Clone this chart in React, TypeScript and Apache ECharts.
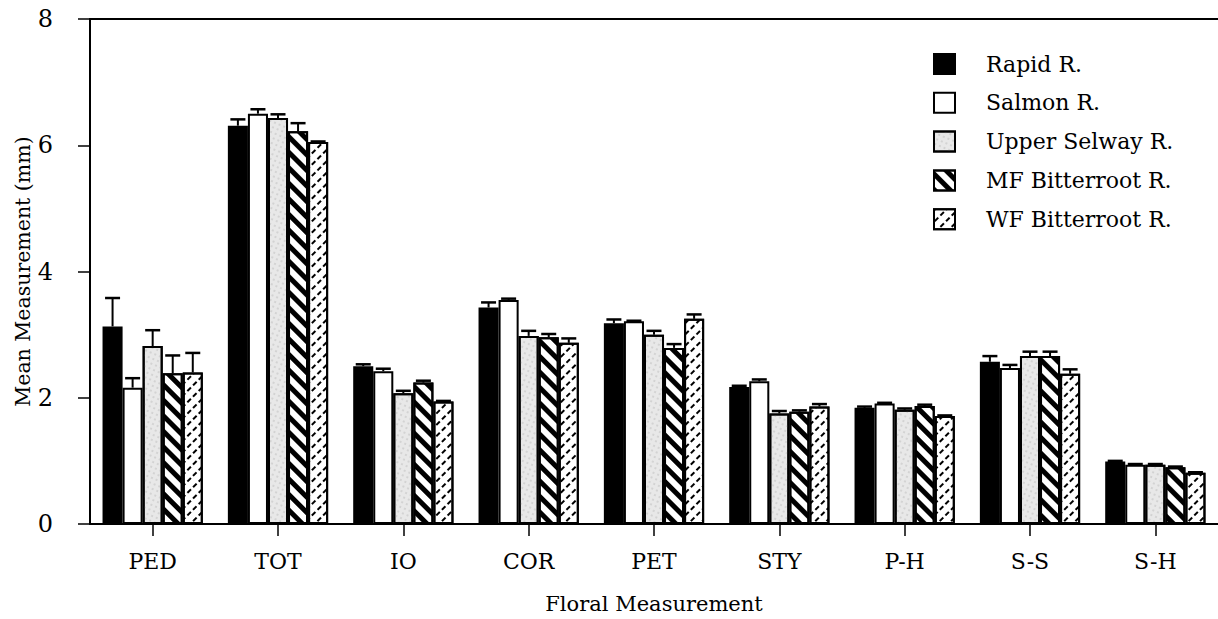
import React, { useEffect, useRef } from "react";
import * as echarts from "echarts";

const categories = ["PED", "TOT", "IO", "COR", "PET", "STY", "P-H", "S-S", "S-H"];
const seriesNames = ["Rapid R.", "Salmon R.", "Upper Selway R.", "MF Bitterroot R.", "WF Bitterroot R."];

const rapid = [3.13, 6.31, 2.5, 3.43, 3.18, 2.17, 1.84, 2.57, 0.99];
const rapidErr = [3.58, 6.41, 2.53, 3.51, 3.24, 2.19, 1.86, 2.66, 1.0];
const salmon = [2.16, 6.5, 2.42, 3.55, 3.21, 2.26, 1.91, 2.47, 0.94];
const salmonErr = [2.31, 6.57, 2.46, 3.57, 3.22, 2.29, 1.92, 2.52, 0.95];
const selway = [2.82, 6.43, 2.07, 2.98, 3.0, 1.75, 1.81, 2.66, 0.94];
const selwayErr = [3.07, 6.49, 2.11, 3.06, 3.06, 1.79, 1.83, 2.73, 0.95];
const mf = [2.39, 6.22, 2.24, 2.96, 2.79, 1.78, 1.87, 2.66, 0.9];
const mfErr = [2.67, 6.35, 2.27, 3.01, 2.85, 1.8, 1.89, 2.73, 0.91];
const wf = [2.4, 6.05, 1.94, 2.87, 3.25, 1.86, 1.71, 2.38, 0.81];
const wfErr = [2.71, 6.06, 1.95, 2.94, 3.32, 1.9, 1.72, 2.45, 0.82];

const yTicks = [0, 2, 4, 6, 8];

const values = [rapid, salmon, selway, mf, wf];
const errs = [rapidErr, salmonErr, selwayErr, mfErr, wfErr];

const FONT = "DejaVu Serif";

const styles: any[] = [
  { color: "#000", borderColor: "#000", borderWidth: 2 },
  { color: "#fff", borderColor: "#000", borderWidth: 2 },
  {
    color: "#e8e8e8",
    borderColor: "#000",
    borderWidth: 2,
    decal: {
      symbol: "circle",
      symbolSize: 0.6,
      dashArrayX: [2, 3],
      dashArrayY: [2, 3],
      rotation: 0.4,
      color: "#a8a8a8",
      backgroundColor: "#efefef",
    },
  },
  {
    color: "#fff",
    borderColor: "#000",
    borderWidth: 2,
    decal: {
      symbol: "rect",
      symbolSize: 1,
      dashArrayX: [1, 0],
      dashArrayY: [4.5, 5.5],
      rotation: Math.PI / 4,
      color: "#000",
      backgroundColor: "#fff",
    },
  },
  {
    color: "#fff",
    borderColor: "#000",
    borderWidth: 2,
    decal: {
      symbol: "rect",
      symbolSize: 1,
      dashArrayX: [5, 3],
      dashArrayY: [2, 6],
      rotation: -Math.PI / 4,
      color: "#000",
      backgroundColor: "#fff",
    },
  },
];

export default function App() {
  const ref = useRef<HTMLDivElement>(null);
  useEffect(() => {
    if (!ref.current) return;
    const chart = echarts.init(ref.current, null, { renderer: "svg" });

    const barSeries = values.map((v, i) => ({
      name: seriesNames[i],
      type: "bar",
      data: v,
      barGap: "0%",
      barCategoryGap: "20%",
      itemStyle: styles[i],
      z: 2,
    }));

    const errSeries = values.map((v, i) => ({
      name: seriesNames[i] + " err",
      type: "custom",
      z: 5,
      silent: true,
      data: v.map((val, k) => [k, val, errs[i][k]]),
      renderItem: (params: any, api: any) => {
        const cat = api.value(0);
        const top = api.coord([cat, api.value(2)]);
        const base = api.coord([cat, api.value(1)]);
        const band = api.size([1, 0])[0];
        const bw = (band * 0.8) / 5;
        const x = top[0] + (i - 2) * bw;
        const half = 7.5;
        return {
          type: "group",
          children: [
            {
              type: "line",
              shape: { x1: x, y1: base[1], x2: x, y2: top[1] },
              style: { stroke: "#000", lineWidth: 2 },
            },
            {
              type: "line",
              shape: { x1: x - half, y1: top[1], x2: x + half, y2: top[1] },
              style: { stroke: "#000", lineWidth: 2.5 },
            },
          ],
        };
      },
    }));

    chart.setOption({
      animation: false,
      backgroundColor: "#fff",
      textStyle: { fontFamily: FONT, color: "#000" },
      legend: {
        orient: "vertical",
        left: 928,
        top: 48,
        icon: "rect",
        itemWidth: 21,
        itemHeight: 20,
        itemGap: 16.8,
        data: seriesNames,
        textStyle: {
          fontFamily: FONT,
          fontSize: 22,
          lineHeight: 20,
          color: "#000",
          padding: [0, 0, 0, 26],
        },
      },
      grid: { left: 90, right: 0, top: 19, bottom: 95, outerBoundsMode: "none", containLabel: false },
      xAxis: [
        {
          type: "category",
          data: categories,
          position: "bottom",
          axisLine: { lineStyle: { color: "#000", width: 2 } },
          axisTick: { show: true, alignWithLabel: true, length: 12, lineStyle: { color: "#000", width: 1.5 } },
          axisLabel: { fontFamily: FONT, fontSize: 22, color: "#000", margin: 26 },
          name: "Floral Measurement",
          nameLocation: "middle",
          nameGap: 69,
          nameMoveOverlap: false,
          nameTextStyle: { fontFamily: FONT, fontSize: 21, color: "#000" },
        },
        {
          type: "category",
          data: categories,
          position: "top",
          axisLine: { lineStyle: { color: "#000", width: 2 } },
          axisTick: { show: false },
          axisLabel: { show: false },
        },
      ],
      yAxis: {
        type: "value",
        min: 0,
        max: 8,
        interval: 2,
        axisLine: { show: true, lineStyle: { color: "#000", width: 2 } },
        axisTick: { show: true, length: 12, lineStyle: { color: "#000", width: 1.5 } },
        splitLine: { show: false },
        axisLabel: {
          fontFamily: FONT,
          fontSize: 24,
          color: "#000",
          margin: 37,
          formatter: (v: number) => (yTicks.includes(v) ? String(v) : ""),
        },
        name: "Mean Measurement (mm)",
        nameLocation: "middle",
        nameGap: 57,
        nameMoveOverlap: false,
        nameTextStyle: { fontFamily: FONT, fontSize: 20.5, color: "#000" },
      },
      series: [...barSeries, ...errSeries],
    });
    return () => chart.dispose();
  }, []);
  return (
    <div
      ref={ref}
      style={{ position: "fixed", left: 0, top: 0, width: 1218, height: 619, background: "#fff" }}
    />
  );
}
